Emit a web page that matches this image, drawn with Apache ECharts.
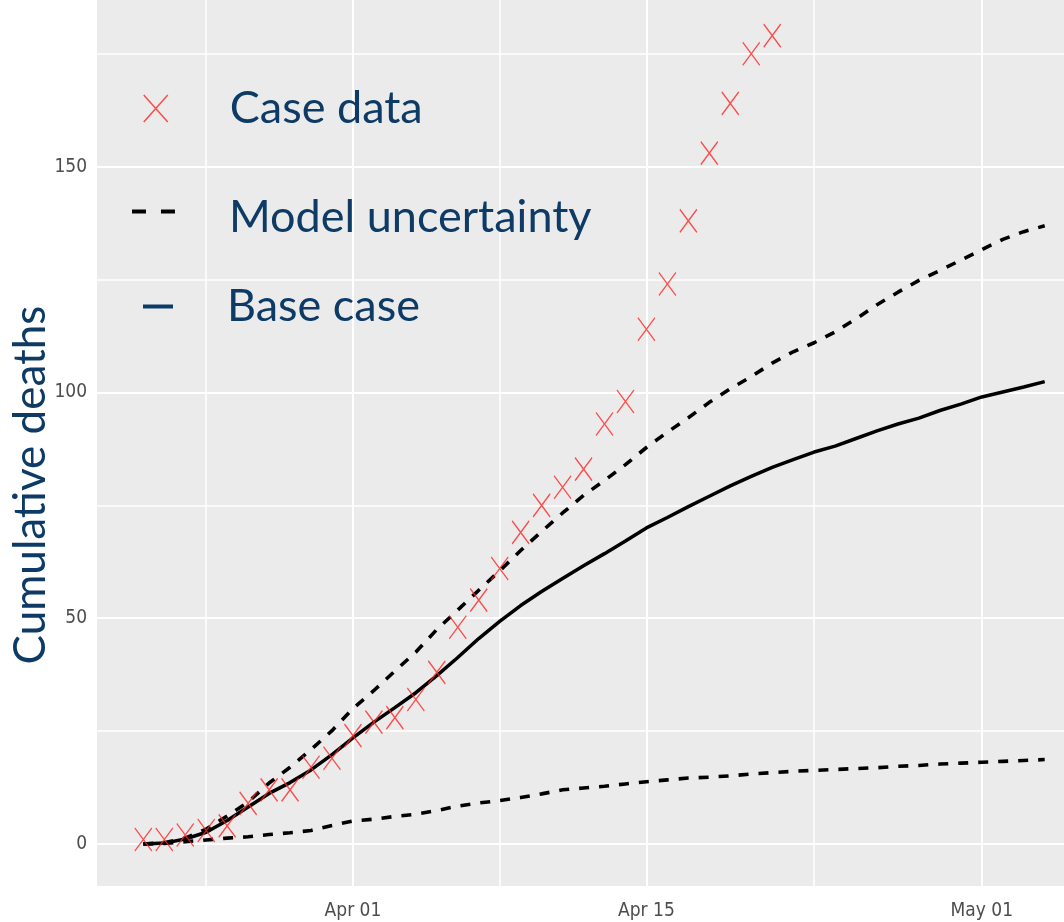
<!DOCTYPE html>
<html>
<head>
<meta charset="utf-8">
<script src="https://cdn.jsdelivr.net/npm/echarts@6/dist/echarts.min.js"></script>
<style>
  html, body { margin: 0; padding: 0; background: #fff; }
  #chart { width: 1064px; height: 922px; }
</style>
</head>
<body>
<div id="chart"></div>
<script>
  // days shown, Mar 22 - May 04
  const dates = [
    '2020-03-22', '2020-03-23', '2020-03-24', '2020-03-25', '2020-03-26', '2020-03-27', '2020-03-28',
    '2020-03-29', '2020-03-30', '2020-03-31', '2020-04-01', '2020-04-02', '2020-04-03', '2020-04-04',
    '2020-04-05', '2020-04-06', '2020-04-07', '2020-04-08', '2020-04-09', '2020-04-10', '2020-04-11',
    '2020-04-12', '2020-04-13', '2020-04-14', '2020-04-15', '2020-04-16', '2020-04-17', '2020-04-18',
    '2020-04-19', '2020-04-20', '2020-04-21', '2020-04-22', '2020-04-23', '2020-04-24', '2020-04-25',
    '2020-04-26', '2020-04-27', '2020-04-28', '2020-04-29', '2020-04-30', '2020-05-01', '2020-05-02',
    '2020-05-03', '2020-05-04'
  ]

  // observed deaths, Mar 22 - Apr 21
  const caseDeaths = [1, 1, 2, 3, 4, 9, 12, 12, 17, 19, 24, 27, 28, 32, 38, 48, 54, 61, 69, 75, 79,
    83, 93, 98, 114, 124, 138, 153, 164, 175, 179]

  const baseCase = [0, 0.2, 1.1, 2.6, 5.2, 8.2, 11.2, 13.6, 16.4, 19.8, 23.5, 27, 30.2, 33.5, 37.3,
    41.3, 45.5, 49.3, 52.8, 55.9, 58.8, 61.6, 64.3, 67.1, 70, 72.3, 74.7, 77, 79.3, 81.4, 83.4,
    85.1, 86.8, 88.1, 89.8, 91.5, 93, 94.3, 96, 97.4, 99, 100.1, 101.2, 102.4]

  const upperBound = [0, 0.3, 1.3, 3.3, 6.2, 9.3, 13.5, 17, 20.9, 25.1, 30, 34, 38.3, 42.5, 47.5,
    51.8, 56.2, 60.5, 65, 69.2, 73.3, 77.2, 80.5, 84, 87.8, 91.2, 94.4, 97.8, 100.8, 103.5, 106.5,
    109, 111, 113.4, 116.3, 119.4, 122.2, 124.8, 127, 129.3, 131.6, 133.9, 135.6, 136.9]

  const lowerBound = [0, 0.1, 0.5, 0.9, 1.3, 1.6, 2.1, 2.5, 3.0, 4.1, 5.1, 5.5, 6.1, 6.6, 7.4,
    8.4, 9.1, 9.6, 10.3, 11.1, 12, 12.4, 12.8, 13.3, 13.8, 14.2, 14.6, 14.8, 15.1, 15.5, 15.8,
    16.1, 16.3, 16.5, 16.7, 16.9, 17.2, 17.4, 17.7, 17.9, 18.1, 18.3, 18.5, 18.7]

  // axis breaks (ggplot style: major + minor)
  const xTickDates = ['2020-04-01', '2020-04-15', '2020-05-01']
  const xTickLabels = ['Apr 01', 'Apr 15', 'May 01']
  const xMinorDates = ['2020-03-25', '2020-04-08', '2020-04-23']
  const yTicks = [0, 50, 100, 150]
  const yMinor = [25, 75, 125, 175]

  const navy = '#0D3B66'
  const red = '#FF2424'
  const textFont = 'Lato'
  const tickFont = "'Liberation Sans Narrow', 'DejaVu Sans Condensed', sans-serif"
  const DAY = 86400000

  // x is days since Apr 01
  const origin = Date.parse('2020-04-01T00:00:00Z')
  const day = s => Math.round((Date.parse(s + 'T00:00:00Z') - origin) / DAY)
  const pair = arr => arr.map((v, i) => [day(dates[i]), v])
  const xTicks = xTickDates.map(day)

  const gridLines = [].concat(
    yMinor.map(v => ({ yAxis: v, lineStyle: { width: 1.5 } })),
    xMinorDates.map(d => ({ xAxis: day(d), lineStyle: { width: 1.5 } })),
    yTicks.map(v => ({ yAxis: v, lineStyle: { width: 2 } })),
    xTicks.map(v => ({ xAxis: v, lineStyle: { width: 2 } }))
  )

  const chart = echarts.init(document.getElementById('chart'))

  const legendBase = {
    orient: 'vertical',
    selectedMode: false,
    zlevel: 2,
    textStyle: { fontFamily: textFont, fontSize: 45, color: navy }
  }
  const legendText = pad => Object.assign({}, legendBase.textStyle, { padding: [0, 0, 0, pad] })

  chart.setOption({
    animation: false,
    grid: {
      left: 97, right: 0, top: 0, bottom: 36,
      show: true, backgroundColor: '#EBEBEB', borderWidth: 0
    },
    xAxis: {
      type: 'value',
      min: -12.21,
      max: 33.92,
      splitLine: { show: false },
      axisLine: { show: false },
      axisTick: {
        show: true, length: 5, customValues: xTicks,
        lineStyle: { color: '#333333', width: 1 }
      },
      axisLabel: {
        customValues: xTicks,
        margin: 16,
        color: '#4D4D4D',
        fontFamily: tickFont,
        fontSize: 19,
        formatter: v => xTickLabels[xTicks.indexOf(v)] || ''
      }
    },
    yAxis: {
      type: 'value',
      min: -9.3,
      max: 186.9,
      splitLine: { show: false },
      axisLine: { show: false },
      axisTick: {
        show: true, length: 5, customValues: yTicks,
        lineStyle: { color: '#333333', width: 1 }
      },
      axisLabel: {
        customValues: yTicks,
        margin: 10,
        color: '#4D4D4D',
        fontFamily: tickFont,
        fontSize: 19
      }
    },
    legend: [
      Object.assign({}, legendBase, {
        left: 138, top: 81, itemWidth: 24, itemHeight: 27,
        data: [{ name: 'Case data', icon: 'path://M0,0L24,27M24,0L0,27' }],
        itemStyle: { color: 'rgba(0,0,0,0)', borderColor: red, borderWidth: 1.5 },
        textStyle: legendText(57)
      }),
      Object.assign({}, legendBase, {
        left: 127, top: 190, itemWidth: 43, itemHeight: 16,
        // the tiny square at the bottom only lifts the dashes above the text centre
        data: [{ name: 'Model uncertainty', icon: 'path://M0,0h14v4h-14zM29,0h14v4h-14zM21,16h0.01v0.01h-0.01z' }],
        itemStyle: { color: '#000', borderWidth: 0 },
        lineStyle: { width: 0 },
        textStyle: legendText(49)
      }),
      Object.assign({}, legendBase, {
        left: 138, top: 279, itemWidth: 30, itemHeight: 4,
        data: [{ name: 'Base case', icon: 'rect' }],
        itemStyle: { color: navy, borderWidth: 0 },
        lineStyle: { width: 0 },
        textStyle: legendText(49)
      })
    ],
    graphic: [{
      type: 'text',
      x: 31,
      y: 485,
      rotation: Math.PI / 2,
      style: {
        text: 'Cumulative deaths',
        fill: navy,
        font: '44px ' + textFont,
        align: 'center',
        verticalAlign: 'middle'
      }
    }],
    series: [
      {
        name: 'grid',
        type: 'line',
        data: [],
        z: 1,
        silent: true,
        markLine: {
          silent: true,
          symbol: ['none', 'none'],
          label: { show: false },
          lineStyle: { color: '#FFFFFF', type: 'solid' },
          data: gridLines
        }
      },
      {
        name: 'Model uncertainty',
        type: 'line',
        data: pair(lowerBound),
        showSymbol: false,
        symbol: 'none',
        zlevel: 1,
        lineStyle: { color: '#000', width: 3.6, type: [10, 10] },
        itemStyle: { color: '#000' }
      },
      {
        name: 'Model uncertainty',
        type: 'line',
        data: pair(upperBound),
        showSymbol: false,
        symbol: 'none',
        zlevel: 1,
        lineStyle: { color: '#000', width: 3.6, type: [10, 10] },
        itemStyle: { color: '#000' }
      },
      {
        name: 'Base case',
        type: 'line',
        data: pair(baseCase),
        showSymbol: false,
        symbol: 'none',
        zlevel: 1,
        lineStyle: { color: '#000', width: 3.5 },
        itemStyle: { color: '#000' }
      },
      {
        name: 'Case data',
        type: 'scatter',
        data: pair(caseDeaths),
        zlevel: 1,
        z: 5,
        symbol: 'path://M0,0L17,23M17,0L0,23',
        symbolSize: [17, 23],
        itemStyle: { color: 'rgba(0,0,0,0)', borderColor: red, borderWidth: 1.4 }
      }
    ]
  })
</script>
</body>
</html>
